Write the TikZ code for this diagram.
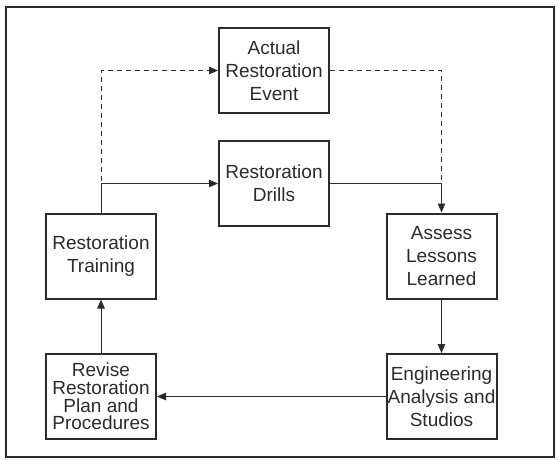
\documentclass[tikz,border=0pt]{standalone}
\usepackage{fontspec}
\setmainfont{Liberation Sans}
\usetikzlibrary{arrows.meta}
\definecolor{ink}{HTML}{2B2B2B}
\begin{document}
\begin{tikzpicture}[x=1pt,y=-1pt,
  box/.style={draw=ink,line width=2pt,minimum width=110pt,minimum height=85pt,
    inner sep=0pt,align=center,text=ink,font=\fontsize{19}{23}\selectfont},
  conn/.style={draw=ink,line width=1pt},
  arr/.style={conn,-{Triangle[length=9pt,width=7.5pt]}},
  dsh/.style={dash pattern=on 5pt off 4pt}]
\useasboundingbox (0,0) rectangle (559,459);
\draw[ink,line width=1.6pt] (6,7) rectangle (554,457);
\node[box] (actual) at (274,70.5) {Actual\\Restoration\\Event};
\node[box] (drills) at (274,183.5) {Restoration\\Drills};
\node[box] (train) at (101,256) {Restoration\\Training};
\node[box] (assess) at (441.5,256) {Assess\\Lessons\\Learned};
\node[box,font=\fontsize{19}{17.7}\selectfont] (revise) at (101,396.5) {Revise\\Restoration\\Plan and\\Procedures};
\node[box] (eng) at (441.5,396.5) {Engineering\\Analysis and\\Studios};
\coordinate (jl) at (101,181);
\coordinate (jr) at (441.5,181);
\draw[arr,dsh] (jl) |- (actual.west);
\draw[conn,dsh] (actual.east) -| (jr);
\draw[arr] (train.north) |- (drills.west);
\draw[arr] (drills.east) -| (assess.north);
\draw[arr] (assess.south) -- (eng.north);
\draw[arr] (eng.west) -- (revise.east);
\draw[arr] (revise.north) -- (train.south);
\end{tikzpicture}
\end{document}
